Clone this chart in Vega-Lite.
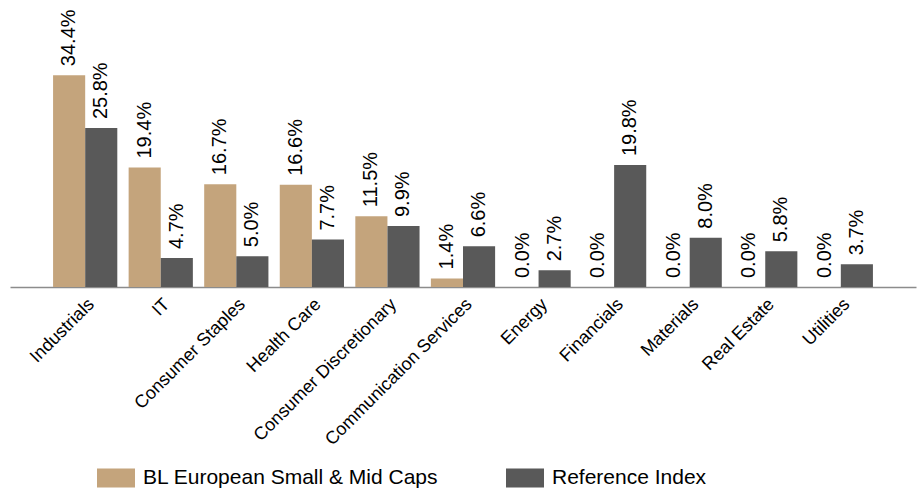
{
  "$schema": "https://vega.github.io/schema/vega-lite/v6.json",
  "width": 906,
  "height": 287,
  "autosize": {"type": "none"},
  "padding": {"left": 10, "top": 0, "right": 8, "bottom": 203},
  "background": "white",
  "config": {
    "view": {"stroke": null},
    "font": "Liberation Sans, Arial, sans-serif"
  },
  "data": {
    "values": [
      {"sector": "Industrials", "series": "BL European Small & Mid Caps", "value": 0.344},
      {"sector": "Industrials", "series": "Reference Index", "value": 0.258},
      {"sector": "IT", "series": "BL European Small & Mid Caps", "value": 0.194},
      {"sector": "IT", "series": "Reference Index", "value": 0.047},
      {"sector": "Consumer Staples", "series": "BL European Small & Mid Caps", "value": 0.167},
      {"sector": "Consumer Staples", "series": "Reference Index", "value": 0.050},
      {"sector": "Health Care", "series": "BL European Small & Mid Caps", "value": 0.166},
      {"sector": "Health Care", "series": "Reference Index", "value": 0.077},
      {"sector": "Consumer Discretionary", "series": "BL European Small & Mid Caps", "value": 0.115},
      {"sector": "Consumer Discretionary", "series": "Reference Index", "value": 0.099},
      {"sector": "Communication Services", "series": "BL European Small & Mid Caps", "value": 0.014},
      {"sector": "Communication Services", "series": "Reference Index", "value": 0.066},
      {"sector": "Energy", "series": "BL European Small & Mid Caps", "value": 0.0},
      {"sector": "Energy", "series": "Reference Index", "value": 0.027},
      {"sector": "Financials", "series": "BL European Small & Mid Caps", "value": 0.0},
      {"sector": "Financials", "series": "Reference Index", "value": 0.198},
      {"sector": "Materials", "series": "BL European Small & Mid Caps", "value": 0.0},
      {"sector": "Materials", "series": "Reference Index", "value": 0.080},
      {"sector": "Real Estate", "series": "BL European Small & Mid Caps", "value": 0.0},
      {"sector": "Real Estate", "series": "Reference Index", "value": 0.058},
      {"sector": "Utilities", "series": "BL European Small & Mid Caps", "value": 0.0},
      {"sector": "Utilities", "series": "Reference Index", "value": 0.037}
    ]
  },
  "encoding": {
    "x": {
      "field": "sector",
      "type": "nominal",
      "sort": null,
      "scale": {"paddingInner": 0.15, "paddingOuter": 0.57},
      "axis": {
        "title": null,
        "labelAngle": -45,
        "labelFontSize": 18,
        "labelColor": "#000000",
        "labelPadding": 8,
        "labelLimit": 0,
        "labelOverlap": false,
        "ticks": false,
        "domain": true,
        "domainColor": "#8c8c8c",
        "domainWidth": 1.5,
        "grid": false
      }
    },
    "xOffset": {
      "field": "series",
      "type": "nominal",
      "sort": ["BL European Small & Mid Caps", "Reference Index"],
      "scale": {"paddingInner": 0, "paddingOuter": 0}
    },
    "y": {
      "field": "value",
      "type": "quantitative",
      "scale": {"domain": [0, 0.466], "nice": false, "zero": true},
      "axis": null
    }
  },
  "layer": [
    {
      "mark": {"type": "bar"},
      "encoding": {
        "color": {
          "field": "series",
          "type": "nominal",
          "scale": {
            "domain": ["BL European Small & Mid Caps", "Reference Index"],
            "range": ["#C4A47C", "#595959"]
          },
          "legend": {
            "title": null,
            "orient": "none",
            "direction": "horizontal",
            "legendX": 87,
            "legendY": 459,
            "padding": 0,
            "symbolType": "M-1,-0.5H1V0.5H-1Z",
            "symbolSize": 1444,
            "symbolStrokeWidth": 0,
            "symbolOpacity": 1,
            "labelFontSize": 21,
            "labelColor": "#000000",
            "labelOffset": 8,
            "labelLimit": 0,
            "columnPadding": 67
          }
        }
      }
    },
    {
      "mark": {
        "type": "text",
        "angle": 270,
        "align": "left",
        "baseline": "middle",
        "dx": 9,
        "fontSize": 20,
        "color": "#000000"
      },
      "encoding": {
        "text": {"field": "value", "type": "quantitative", "format": ".1%"}
      }
    }
  ]
}
